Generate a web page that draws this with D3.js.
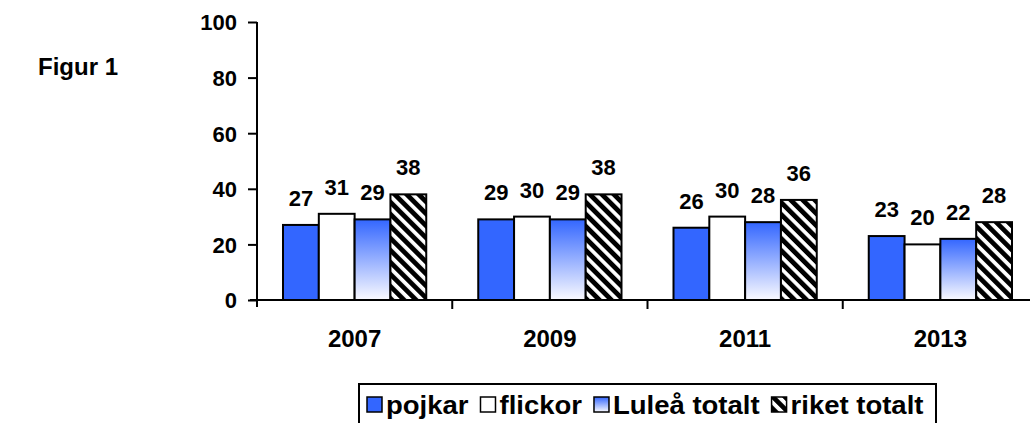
<!DOCTYPE html>
<html>
<head>
<meta charset="utf-8">
<script src="https://cdn.jsdelivr.net/npm/d3@7"></script>
<style>
  body { margin: 0; background: #fff; }
  svg { display: block; font-family: "Liberation Sans", Arial, sans-serif; font-weight: bold; }
</style>
</head>
<body>
<div id="chart"></div>
<script>
// data
var years = ["2007", "2009", "2011", "2013"];
var seriesNames = ["pojkar", "flickor", "Luleå totalt", "riket totalt"];
var pojkar = [27, 29, 26, 23];
var flickor = [31, 30, 30, 20];
var lulea = [29, 29, 28, 22];
var riket = [38, 38, 36, 28];
var yTicks = [0, 20, 40, 60, 80, 100];

var W = 1030, H = 423;

var svg = d3.select("#chart").append("svg")
    .attr("width", W)
    .attr("height", H);

var defs = svg.append("defs");

// gradient for Luleå totalt
var grad = defs.append("linearGradient")
    .attr("id", "luleaGrad")
    .attr("x1", 0).attr("y1", 0).attr("x2", 0).attr("y2", 1);
grad.append("stop").attr("offset", "0%").attr("stop-color", "#3366ff");
grad.append("stop").attr("offset", "100%").attr("stop-color", "#fafaff");

// diagonal stripes for riket totalt
var pat = defs.append("pattern")
    .attr("id", "stripes")
    .attr("patternUnits", "userSpaceOnUse")
    .attr("width", 8.5).attr("height", 8.5)
    .attr("patternTransform", "rotate(-45)");
pat.append("rect").attr("width", 8.5).attr("height", 8.5).attr("fill", "#fff");
pat.append("rect").attr("width", 4.8).attr("height", 8.5).attr("fill", "#000");

var fills = ["#3366ff", "#ffffff", "url(#luleaGrad)", "url(#stripes)"];

var x0 = d3.scaleBand().domain(years).range([257, 1038]).padding(0);
var x1 = d3.scaleBand().domain(seriesNames).range([26, x0.bandwidth() - 26]).padding(0);
var y = d3.scaleLinear().domain([0, 100]).range([300, 22]);

var rows = years.map(function(yr, i) {
    return {
        year: yr,
        values: [pojkar[i], flickor[i], lulea[i], riket[i]]
    };
});

// bars
var groups = svg.selectAll("g.year")
    .data(rows)
    .enter().append("g")
    .attr("class", "year")
    .attr("transform", function(d) { return "translate(" + x0(d.year) + ",0)"; });

groups.selectAll("rect")
    .data(function(d) { return d.values.map(function(v, j) { return {name: seriesNames[j], v: v, j: j}; }); })
    .enter().append("rect")
    .attr("x", function(d) { return x1(d.name); })
    .attr("y", function(d) { return y(d.v); })
    .attr("width", x1.bandwidth())
    .attr("height", function(d) { return y(0) - y(d.v); })
    .attr("fill", function(d) { return fills[d.j]; })
    .attr("stroke", "#000")
    .attr("stroke-width", 2);

groups.selectAll("text.val")
    .data(function(d) { return d.values.map(function(v, j) { return {name: seriesNames[j], v: v}; }); })
    .enter().append("text")
    .attr("class", "val")
    .attr("x", function(d) { return x1(d.name) + x1.bandwidth() / 2; })
    .attr("y", function(d) { return y(d.v) - 19; })
    .attr("text-anchor", "middle")
    .attr("font-size", 22)
    .text(function(d) { return d.v; });

// y axis
var yAxis = d3.axisLeft(y).tickValues(yTicks).tickSize(9).tickPadding(11);
var gy = svg.append("g").attr("transform", "translate(257,0)").call(yAxis);
gy.select(".domain").attr("stroke", "#000").attr("stroke-width", 2).attr("d", "M0,22V307");
gy.selectAll(".tick line").attr("stroke", "#000").attr("stroke-width", 2);
gy.selectAll(".tick text").attr("font-size", 22).attr("fill", "#000").attr("dy", "0.36em");

// x axis
var gx = svg.append("g").attr("transform", "translate(0,300)");
gx.append("line")
    .attr("x1", 250).attr("x2", x0.range()[1])
    .attr("stroke", "#000").attr("stroke-width", 2);
gx.selectAll("line.tk")
    .data(years.slice(1))
    .enter().append("line")
    .attr("class", "tk")
    .attr("x1", function(d) { return x0(d); })
    .attr("x2", function(d) { return x0(d); })
    .attr("y1", 0).attr("y2", 9)
    .attr("stroke", "#000").attr("stroke-width", 2);
gx.selectAll("text")
    .data(years)
    .enter().append("text")
    .attr("x", function(d) { return x0(d) + x0.bandwidth() / 2; })
    .attr("y", 47)
    .attr("text-anchor", "middle")
    .attr("font-size", 24)
    .text(function(d) { return d; });

// title
svg.append("text")
    .attr("x", 38).attr("y", 75)
    .attr("font-size", 24)
    .text("Figur 1");

// legend
var lg = svg.append("g");
lg.append("rect")
    .attr("x", 359).attr("y", 384)
    .attr("width", 577).attr("height", 60)
    .attr("fill", "#fff").attr("stroke", "#000").attr("stroke-width", 2);

var lx = 367, sx = 1.1;
seriesNames.forEach(function(name, j) {
    lg.append("rect")
        .attr("x", lx).attr("y", 397)
        .attr("width", 15).attr("height", 15)
        .attr("fill", fills[j])
        .attr("stroke", "#000").attr("stroke-width", 1.5);
    var t = lg.append("text")
        .attr("transform", "translate(" + (lx + 19) + ",414) scale(" + sx + ",1)")
        .attr("font-size", 25)
        .text(name);
    lx += 19 + t.node().getComputedTextLength() * sx + 12;
});
</script>
</body>
</html>
